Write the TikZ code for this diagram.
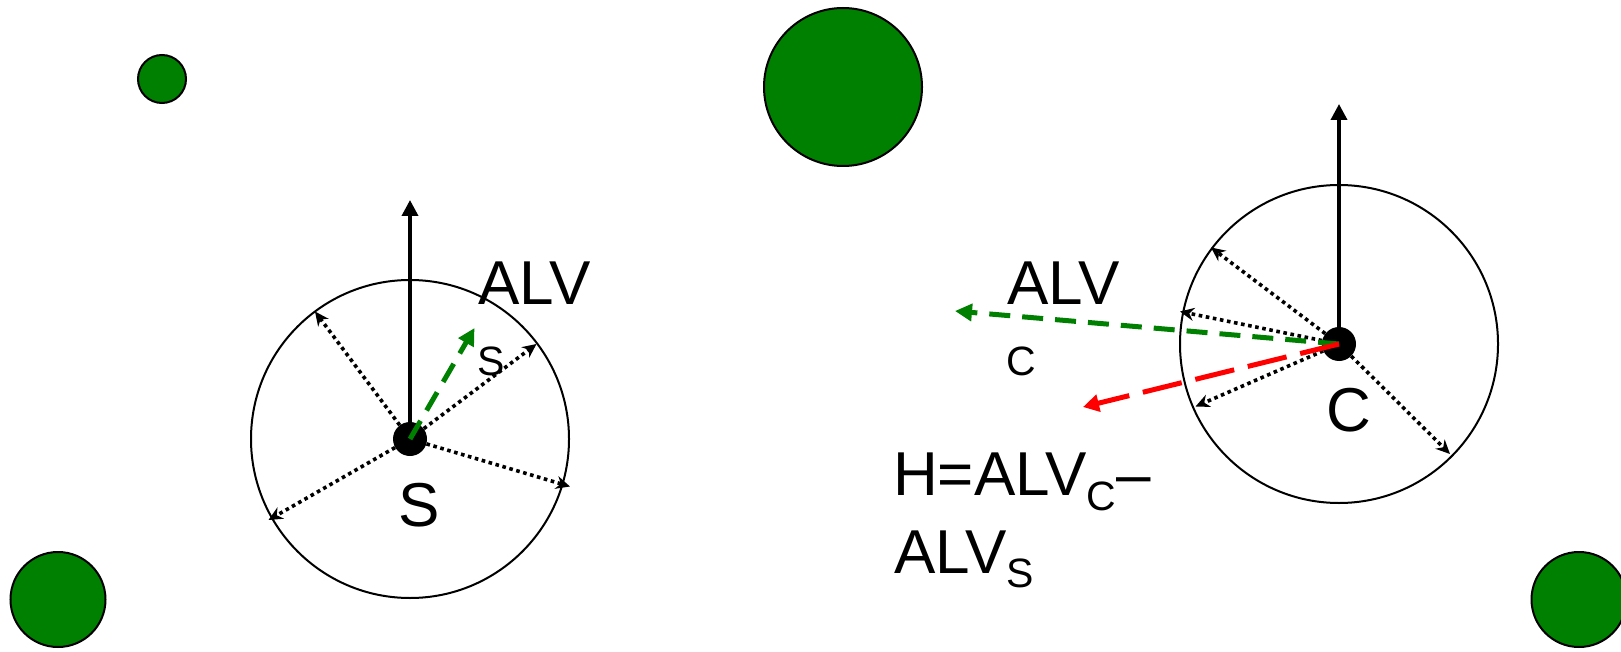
\documentclass[tikz,border=0pt]{standalone}
\usepackage{fontspec}
\setmainfont{Liberation Sans}
\usetikzlibrary{arrows.meta}
\definecolor{leafgreen}{RGB}{0,128,0}
\definecolor{diffred}{RGB}{255,0,0}
\begin{document}
\begin{tikzpicture}[x=1pt,y=-1pt,
  disc/.style={draw=black,line width=2pt,fill=leafgreen},
  rangecircle/.style={draw=black,line width=2pt},
  agent/.style={circle,fill=black,inner sep=0pt,minimum size=34pt},
  heading/.style={line width=3.6pt,-{Triangle[length=16pt,width=16pt]}},
  ray/.style={line width=3.6pt,dash pattern=on 3.6pt off 3.6pt,
    -{Stealth[length=14pt,width=13pt,inset=4.5pt]}},
  alv/.style={leafgreen,line width=5pt,dash pattern=on 21pt off 12pt,
    -{Triangle[length=17pt,width=17pt]}},
  hdiff/.style={diffred,line width=5pt,dash pattern=on 40pt off 14pt,
    -{Triangle[length=16pt,width=17pt]}},
  big/.style={inner sep=0pt,anchor=base west,font=\fontsize{62}{74}\selectfont},
  small/.style={inner sep=0pt,anchor=base west,font=\fontsize{41}{48}\selectfont}
]
\useasboundingbox (0,0) rectangle (1621,652);

% landmarks
\draw[disc] (162,79) circle[radius=24];
\draw[disc] (843,87) circle[radius=79];
\draw[disc] (58,599.5) circle[radius=47.5];
\draw[disc] (1579,599.5) circle[radius=47.5];

% sensing ranges
\draw[rangecircle] (410,439) circle[radius=159];
\draw[rangecircle] (1339,344) circle[radius=159];

% agents
\node[agent] (S) at (410,439) {};
\node[agent] (C) at (1339,344) {};

% tips of the vectors around S
\coordinate (sUp) at (410,200);
\coordinate (s1) at (315,311.5);
\coordinate (s2) at (536.5,344);
\coordinate (s3) at (570,486.5);
\coordinate (s4) at (268.5,520);
\coordinate (sAlv) at (474.5,328);

% tips of the vectors around C
\coordinate (cUp) at (1339,104);
\coordinate (c1) at (1211,247.5);
\coordinate (c2) at (1180,311.5);
\coordinate (c3) at (1195.5,406.5);
\coordinate (c4) at (1450,454);
\coordinate (cAlv) at (955,311);
\coordinate (cH) at (1083,407);

% neighbour vectors
\foreach \t in {s1,s2,s3,s4} \draw[ray] (S) -- (\t);
\foreach \t in {c1,c2,c3,c4} \draw[ray] (C) -- (\t);

% headings
\draw[heading] (S.center) -- (sUp);
\draw[heading] (C.center) -- (cUp);

% average local vectors and their difference
\draw[alv] (S.center) -- (sAlv);
\draw[alv] (C.center) -- (cAlv);
\draw[hdiff] (C.center) -- (cH);

% labels
\node[big] (alvS) at (478,304) {ALV};
\node[small] (alvSsub) at (477.5,375) {S};
\node[big] (lblS) at (398,526) {S};
\node[big] (alvC) at (1007,304) {ALV};
\node[small] (alvCsub) at (1006,375) {C};
\node[big] (lblC) at (1326,431) {C};
\node[big] (eq1) at (893,495) {H=ALV\raisebox{-15pt}{\fontsize{41}{48}\selectfont C}–};
\node[big] (eq2) at (894,573) {ALV\raisebox{-14pt}{\fontsize{41}{48}\selectfont S}};
\end{tikzpicture}
\end{document}
